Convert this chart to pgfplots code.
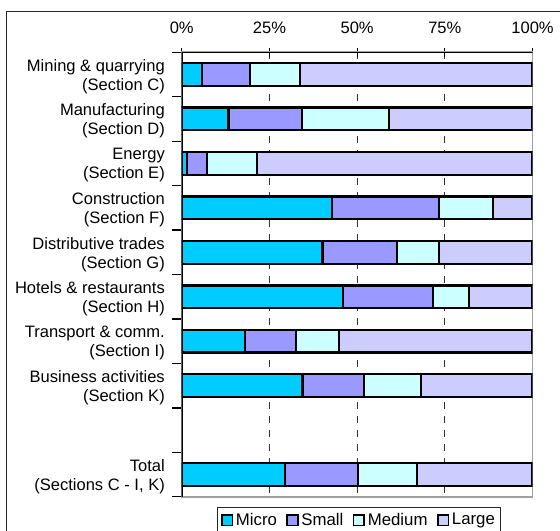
\documentclass[border=0pt]{standalone}
\usepackage{pgfplots}
\pgfplotsset{compat=1.18}
\usepackage{fontspec}
\setmainfont{Liberation Sans}
\definecolor{cmicro}{HTML}{00CCFF}
\definecolor{csmall}{HTML}{9999FF}
\definecolor{cmedium}{HTML}{CCFFFF}
\definecolor{clarge}{HTML}{CCCCFF}
\begin{document}
\begin{tikzpicture}
\useasboundingbox (0,0) rectangle (420pt,-398.25pt);
\draw[black!85, line width=0.8pt] (5.0pt,-398.25pt) -- (5.0pt,-8.8pt) -- (420pt,-8.8pt);
\begin{axis}[
  at={(136.3pt,-39.2pt)}, anchor=north west,
  scale only axis, width=263.1pt, height=333.4pt,
  xbar stacked, bar width=17pt,
  xmin=0, xmax=100, ymin=-0.5, ymax=9.5, y dir=reverse,
  axis line style={draw=gray!75, line width=1.4pt},
  xtick={0,25,50,75,100},
  xticklabels={0\%,25\%,50\%,75\%,100\%},
  xtick pos=upper, xticklabel pos=upper,
  xtick align=center,
  ytick align=outside,
  major tick length=7pt,
  tick style={black, line width=0.9pt},
  ytick pos=left,
  ytick={-0.5,0.5,...,9.5}, yticklabels={},
  extra y ticks={0,1,2,3,4,5,6,7,9},
  extra y tick labels={{Mining \& quarrying\\(Section C)},{Manufacturing\\(Section D)},{Energy\\(Section E)},{Construction\\(Section F)},{Distributive trades\\(Section G)},{Hotels \& restaurants\\(Section H)},{Transport \& comm.\\(Section I)},{Business activities\\(Section K)},{Total\\(Sections C - I, K)}},
  extra y tick style={major tick length=0pt, yticklabel style={align=right, inner sep=0pt, xshift=-12.5pt, yshift=-1.5pt, font=\fontsize{12.4}{14.25}\selectfont}},
  ticklabel style={font=\fontsize{12.4}{14.25}\selectfont},
  xticklabel style={yshift=7pt},
  xmajorgrids,
  grid style={black!80, dash pattern=on 5pt off 5.5pt, line width=0.9pt},
  every axis plot/.append style={draw=black, line width=1.7pt},
  legend columns=4,
  legend style={at={(0.506,-0.022)}, anchor=north, draw=black!85, line width=0.8pt,
    font=\fontsize{12.6}{14.25}\selectfont, inner sep=2.5pt,
    /tikz/every even column/.append style={column sep=5pt}},
  legend image code/.code={\draw[#1, line width=1.3pt] (0pt,-4pt) rectangle (8pt,4pt);},
]
\addplot[fill=cmicro] coordinates {(5.7,0) (13.3,1) (1.6,2) (42.8,3) (40.1,4) (45.9,5) (18.1,6) (34.4,7) (29.5,9)};
\addplot[fill=csmall] coordinates {(13.8,0) (21.0,1) (5.7,2) (30.6,3) (21.3,4) (25.7,5) (14.4,6) (17.6,7) (20.7,9)};
\addplot[fill=cmedium] coordinates {(14.3,0) (24.7,1) (14.1,2) (15.3,3) (12.0,4) (10.2,5) (12.4,6) (16.3,7) (16.9,9)};
\addplot[fill=clarge] coordinates {(66.2,0) (41.0,1) (78.6,2) (11.3,3) (26.6,4) (18.2,5) (55.1,6) (31.7,7) (32.9,9)};
\legend{Micro,Small,Medium,Large}
\draw[black, line width=1.2pt] (axis description cs:0,0) -- (axis description cs:0,1) -- (axis description cs:1,1);
\end{axis}
\end{tikzpicture}
\end{document}
